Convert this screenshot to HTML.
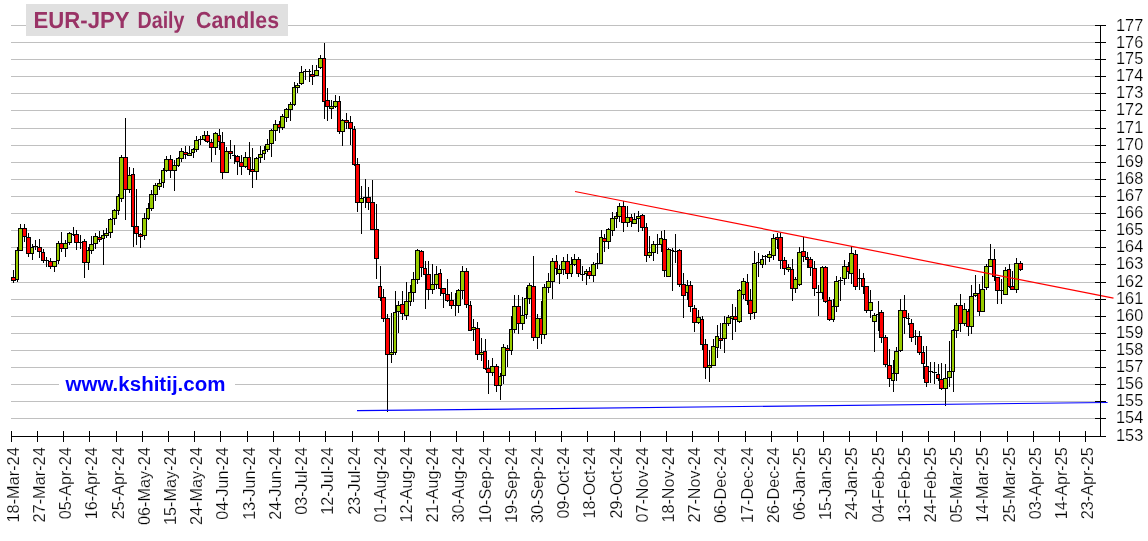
<!DOCTYPE html>
<html><head><meta charset="utf-8"><title>EUR-JPY Daily Candles</title>
<style>
html,body{margin:0;padding:0;background:#fff;width:1148px;height:541px;overflow:hidden}
svg{display:block}
text{font-family:"Liberation Sans",Arial,sans-serif}
.title text{text-rendering:geometricPrecision;font-size:23.2px;font-weight:bold;fill:#993366}
.url{font-size:19.5px;font-weight:bold;fill:#0000ff}
.ylab text{font-size:16px;fill:#000;stroke:#fff;stroke-width:0.2px}
.xlab text{font-size:16px;fill:#000;stroke:#fff;stroke-width:0.2px;text-anchor:end}
.g{fill:#99cc00}
.r{fill:#ff0000}
</style></head><body>
<svg width="1148" height="541" viewBox="0 0 1148 541">
<rect width="1148" height="541" fill="#fff"/>
<path d="M11 418.5H1095 M11 401.5H1095 M11 384.5H1095 M11 367.5H1095 M11 350.5H1095 M11 333.5H1095 M11 316.5H1095 M11 299.5H1095 M11 282.5H1095 M11 264.5H1095 M11 247.5H1095 M11 230.5H1095 M11 213.5H1095 M11 196.5H1095 M11 179.5H1095 M11 162.5H1095 M11 145.5H1095 M11 128.5H1095 M11 110.5H1095 M11 93.5H1095 M11 76.5H1095 M11 59.5H1095 M11 42.5H1095 M11 25.5H1095" stroke="#c0c0c0" stroke-width="1" fill="none"/>
<rect x="26" y="4" width="262" height="32" fill="#e0e0e0"/>
<g class="title" transform="translate(0,27.6) scale(1,1.0) translate(0,-27.6)"><text x="33.6" y="27.6" textLength="96" lengthAdjust="spacingAndGlyphs">EUR-JPY</text><text x="137.5" y="27.6" textLength="47" lengthAdjust="spacingAndGlyphs">Daily</text><text x="196" y="27.6" textLength="83" lengthAdjust="spacingAndGlyphs">Candles</text></g>
<rect x="59" y="374" width="176" height="20" fill="#ffffff"/>
<text x="65.5" y="391" class="url" textLength="160" lengthAdjust="spacingAndGlyphs">www.kshitij.com</text>
<g shape-rendering="crispEdges" fill="#000"><path d="M13 270h1V283h-1zM11 277h5V281h-5z"/><rect class="r" x="12" y="278" width="3" height="2"/><path d="M17 247h1V282h-1zM15 250h4V280h-4z"/><rect class="g" x="16" y="251" width="2" height="28"/><path d="M20 224h1V251h-1zM18 228h5V251h-5z"/><rect class="g" x="19" y="229" width="3" height="21"/><path d="M24 224h1V242h-1zM22 228h5V237h-5z"/><rect class="r" x="23" y="229" width="3" height="7"/><path d="M28 233h1V257h-1zM26 237h5V254h-5z"/><rect class="r" x="27" y="238" width="3" height="15"/><path d="M32 244h1V260h-1zM30 247h4V254h-4z"/><rect class="g" x="31" y="248" width="2" height="5"/><path d="M35 240h1V250h-1zM33 246h5v1h-5z"/><path d="M39 239h1V258h-1zM37 247h5V252h-5z"/><rect class="r" x="38" y="248" width="3" height="3"/><path d="M43 249h1V263h-1zM41 252h4V261h-4z"/><rect class="r" x="42" y="253" width="2" height="7"/><path d="M46 257h1V267h-1zM44 260h5v1h-5z"/><path d="M50 258h1V269h-1zM48 261h5V267h-5z"/><rect class="r" x="49" y="262" width="3" height="4"/><path d="M54 261h1V272h-1zM52 261h5V267h-5z"/><rect class="g" x="53" y="262" width="3" height="4"/><path d="M58 241h1V264h-1zM56 243h4V261h-4z"/><rect class="g" x="57" y="244" width="2" height="16"/><path d="M61 232h1V252h-1zM59 243h5V249h-5z"/><rect class="r" x="60" y="244" width="3" height="4"/><path d="M65 240h1V257h-1zM63 243h5V249h-5z"/><rect class="g" x="64" y="244" width="3" height="4"/><path d="M69 232h1V245h-1zM67 233h5V243h-5z"/><rect class="g" x="68" y="234" width="3" height="8"/><path d="M73 227h1V236h-1zM71 234h4v1h-4z"/><path d="M76 230h1V250h-1zM74 234h5V243h-5z"/><rect class="r" x="75" y="235" width="3" height="7"/><path d="M80 235h1V249h-1zM78 242h5v1h-5z"/><path d="M84 239h1V278h-1zM82 241h5V263h-5z"/><rect class="r" x="83" y="242" width="3" height="20"/><path d="M88 247h1V270h-1zM86 250h4V263h-4z"/><rect class="g" x="87" y="251" width="2" height="11"/><path d="M91 236h1V254h-1zM89 244h5V251h-5z"/><rect class="g" x="90" y="245" width="3" height="5"/><path d="M95 233h1V249h-1zM93 236h5V244h-5z"/><rect class="g" x="94" y="237" width="3" height="6"/><path d="M99 231h1V242h-1zM97 237h5V240h-5z"/><rect class="r" x="98" y="238" width="3" height="1"/><path d="M103 230h1V265h-1zM101 235h4V239h-4z"/><rect class="g" x="102" y="236" width="2" height="2"/><path d="M106 228h1V238h-1zM104 233h5V236h-5z"/><rect class="g" x="105" y="234" width="3" height="1"/><path d="M110 218h1V238h-1zM108 219h5V233h-5z"/><rect class="g" x="109" y="220" width="3" height="12"/><path d="M114 209h1V225h-1zM112 210h5V219h-5z"/><rect class="g" x="113" y="211" width="3" height="7"/><path d="M118 194h1V215h-1zM116 196h4V211h-4z"/><rect class="g" x="117" y="197" width="2" height="13"/><path d="M121 155h1V202h-1zM119 157h5V199h-5z"/><rect class="g" x="120" y="158" width="3" height="40"/><path d="M125 118h1V220h-1zM123 157h5V190h-5z"/><rect class="r" x="124" y="158" width="3" height="31"/><path d="M129 167h1V193h-1zM127 175h5V190h-5z"/><rect class="g" x="128" y="176" width="3" height="13"/><path d="M133 168h1V247h-1zM131 174h4V227h-4z"/><rect class="r" x="132" y="175" width="2" height="51"/><path d="M136 189h1V245h-1zM134 226h5V234h-5z"/><rect class="r" x="135" y="227" width="3" height="6"/><path d="M140 233h1V248h-1zM138 234h5V237h-5z"/><rect class="r" x="139" y="235" width="3" height="1"/><path d="M144 213h1V240h-1zM142 218h5V236h-5z"/><rect class="g" x="143" y="219" width="3" height="16"/><path d="M148 203h1V220h-1zM146 208h4V219h-4z"/><rect class="g" x="147" y="209" width="2" height="9"/><path d="M151 190h1V211h-1zM149 194h5V209h-5z"/><rect class="g" x="150" y="195" width="3" height="13"/><path d="M155 183h1V201h-1zM153 185h5V195h-5z"/><rect class="g" x="154" y="186" width="3" height="8"/><path d="M159 179h1V190h-1zM157 183h5V187h-5z"/><rect class="g" x="158" y="184" width="3" height="2"/><path d="M163 168h1V188h-1zM161 170h4V183h-4z"/><rect class="g" x="162" y="171" width="2" height="11"/><path d="M166 156h1V172h-1zM164 159h5V171h-5z"/><rect class="g" x="165" y="160" width="3" height="10"/><path d="M170 155h1V178h-1zM168 159h5V171h-5z"/><rect class="r" x="169" y="160" width="3" height="10"/><path d="M174 160h1V191h-1zM172 165h5V171h-5z"/><rect class="g" x="173" y="166" width="3" height="4"/><path d="M178 157h1V167h-1zM176 158h4V166h-4z"/><rect class="g" x="177" y="159" width="2" height="6"/><path d="M181 148h1V162h-1zM179 151h5V159h-5z"/><rect class="g" x="180" y="152" width="3" height="6"/><path d="M185 146h1V159h-1zM183 152h5V155h-5z"/><rect class="r" x="184" y="153" width="3" height="1"/><path d="M189 146h1V156h-1zM187 153h5V156h-5z"/><rect class="g" x="188" y="154" width="3" height="1"/><path d="M193 148h1V158h-1zM191 149h4V153h-4z"/><rect class="g" x="192" y="150" width="2" height="2"/><path d="M196 136h1V152h-1zM194 140h5V150h-5z"/><rect class="g" x="195" y="141" width="3" height="8"/><path d="M200 136h1V145h-1zM198 139h5v1h-5z"/><path d="M204 131h1V141h-1zM202 135h4V140h-4z"/><rect class="g" x="203" y="136" width="2" height="3"/><path d="M207 131h1V143h-1zM205 135h5V142h-5z"/><rect class="r" x="206" y="136" width="3" height="5"/><path d="M211 139h1V162h-1zM209 142h5V148h-5z"/><rect class="r" x="210" y="143" width="3" height="4"/><path d="M215 132h1V155h-1zM213 133h5V148h-5z"/><rect class="g" x="214" y="134" width="3" height="13"/><path d="M219 129h1V150h-1zM217 135h4V142h-4z"/><rect class="r" x="218" y="136" width="2" height="5"/><path d="M222 132h1V179h-1zM220 142h5V173h-5z"/><rect class="r" x="221" y="143" width="3" height="29"/><path d="M226 147h1V173h-1zM224 151h5V173h-5z"/><rect class="g" x="225" y="152" width="3" height="20"/><path d="M230 140h1V159h-1zM228 151h5V154h-5z"/><rect class="r" x="229" y="152" width="3" height="1"/><path d="M234 145h1V164h-1zM232 155h4v1h-4z"/><path d="M237 155h1V175h-1zM235 156h5V162h-5z"/><rect class="r" x="236" y="157" width="3" height="4"/><path d="M241 155h1V175h-1zM239 162h5V167h-5z"/><rect class="r" x="240" y="163" width="3" height="3"/><path d="M245 152h1V168h-1zM243 157h5V167h-5z"/><rect class="g" x="244" y="158" width="3" height="8"/><path d="M249 142h1V175h-1zM247 157h4V170h-4z"/><rect class="r" x="248" y="158" width="2" height="11"/><path d="M252 148h1V188h-1zM250 169h5V172h-5z"/><rect class="r" x="251" y="170" width="3" height="1"/><path d="M256 157h1V180h-1zM254 158h5V172h-5z"/><rect class="g" x="255" y="159" width="3" height="12"/><path d="M260 146h1V163h-1zM258 154h5V158h-5z"/><rect class="g" x="259" y="155" width="3" height="2"/><path d="M264 146h1V160h-1zM262 150h4V154h-4z"/><rect class="g" x="263" y="151" width="2" height="2"/><path d="M267 139h1V152h-1zM265 144h5V150h-5z"/><rect class="g" x="266" y="145" width="3" height="4"/><path d="M271 129h1V157h-1zM269 130h5V144h-5z"/><rect class="g" x="270" y="131" width="3" height="12"/><path d="M275 120h1V141h-1zM273 124h5V131h-5z"/><rect class="g" x="274" y="125" width="3" height="5"/><path d="M279 121h1V133h-1zM277 124h4V128h-4z"/><rect class="r" x="278" y="125" width="2" height="2"/><path d="M282 114h1V130h-1zM280 116h5V128h-5z"/><rect class="g" x="281" y="117" width="3" height="10"/><path d="M286 108h1V122h-1zM284 109h5V118h-5z"/><rect class="g" x="285" y="110" width="3" height="7"/><path d="M290 102h1V121h-1zM288 104h5V110h-5z"/><rect class="g" x="289" y="105" width="3" height="4"/><path d="M294 82h1V106h-1zM292 87h4V105h-4z"/><rect class="g" x="293" y="88" width="2" height="16"/><path d="M297 83h1V93h-1zM295 85h5V88h-5z"/><rect class="g" x="296" y="86" width="3" height="1"/><path d="M301 66h1V85h-1zM299 72h5V84h-5z"/><rect class="g" x="300" y="73" width="3" height="10"/><path d="M305 69h1V80h-1zM303 71h5v1h-5z"/><path d="M309 69h1V82h-1zM307 71h4v1h-4z"/><path d="M312 65h1V85h-1zM310 74h5V77h-5z"/><rect class="r" x="311" y="75" width="3" height="1"/><path d="M316 65h1V76h-1zM314 70h5V76h-5z"/><rect class="g" x="315" y="71" width="3" height="4"/><path d="M320 55h1V69h-1zM318 58h5V68h-5z"/><rect class="g" x="319" y="59" width="3" height="8"/><path d="M324 43h1V119h-1zM322 58h4V102h-4z"/><rect class="r" x="323" y="59" width="2" height="42"/><path d="M327 88h1V121h-1zM325 100h5V107h-5z"/><rect class="r" x="326" y="101" width="3" height="5"/><path d="M331 100h1V119h-1zM329 106h5V109h-5z"/><rect class="g" x="330" y="107" width="3" height="1"/><path d="M335 95h1V108h-1zM333 101h5V107h-5z"/><rect class="g" x="334" y="102" width="3" height="4"/><path d="M339 96h1V134h-1zM337 101h4V132h-4z"/><rect class="r" x="338" y="102" width="2" height="29"/><path d="M342 119h1V146h-1zM340 120h5V132h-5z"/><rect class="g" x="341" y="121" width="3" height="10"/><path d="M346 113h1V129h-1zM344 120h5V123h-5z"/><rect class="r" x="345" y="121" width="3" height="1"/><path d="M350 116h1V145h-1zM348 122h5V129h-5z"/><rect class="r" x="349" y="123" width="3" height="5"/><path d="M354 126h1V166h-1zM352 129h4V165h-4z"/><rect class="r" x="353" y="130" width="2" height="34"/><path d="M357 158h1V212h-1zM355 164h5V203h-5z"/><rect class="r" x="356" y="165" width="3" height="37"/><path d="M361 186h1V234h-1zM359 198h5V203h-5z"/><rect class="g" x="360" y="199" width="3" height="3"/><path d="M365 179h1V208h-1zM363 197h4v1h-4z"/><path d="M368 187h1V210h-1zM366 197h5V203h-5z"/><rect class="r" x="367" y="198" width="3" height="4"/><path d="M372 180h1V230h-1zM370 202h5V230h-5z"/><rect class="r" x="371" y="203" width="3" height="26"/><path d="M376 204h1V279h-1zM374 229h5V259h-5z"/><rect class="r" x="375" y="230" width="3" height="28"/><path d="M380 266h1V301h-1zM378 286h4V298h-4z"/><rect class="r" x="379" y="287" width="2" height="10"/><path d="M383 289h1V322h-1zM381 297h5V319h-5z"/><rect class="r" x="382" y="298" width="3" height="20"/><path d="M387 314h1V412h-1zM385 318h5V355h-5z"/><rect class="r" x="386" y="319" width="3" height="35"/><path d="M391 313h1V363h-1zM389 352h5V355h-5z"/><rect class="g" x="390" y="353" width="3" height="1"/><path d="M395 291h1V355h-1zM393 312h4V353h-4z"/><rect class="g" x="394" y="313" width="2" height="39"/><path d="M398 301h1V333h-1zM396 305h5V312h-5z"/><rect class="g" x="397" y="306" width="3" height="5"/><path d="M402 291h1V320h-1zM400 304h5V314h-5z"/><rect class="r" x="401" y="305" width="3" height="8"/><path d="M406 282h1V320h-1zM404 301h5V316h-5z"/><rect class="g" x="405" y="302" width="3" height="13"/><path d="M410 285h1V306h-1zM408 292h4V302h-4z"/><rect class="g" x="409" y="293" width="2" height="8"/><path d="M413 272h1V302h-1zM411 279h5V293h-5z"/><rect class="g" x="412" y="280" width="3" height="12"/><path d="M417 249h1V284h-1zM415 250h5V280h-5z"/><rect class="g" x="416" y="251" width="3" height="28"/><path d="M421 250h1V277h-1zM419 251h5V268h-5z"/><rect class="r" x="420" y="252" width="3" height="15"/><path d="M425 261h1V309h-1zM423 268h4V275h-4z"/><rect class="r" x="424" y="269" width="2" height="5"/><path d="M428 261h1V300h-1zM426 274h5V290h-5z"/><rect class="r" x="427" y="275" width="3" height="14"/><path d="M432 264h1V294h-1zM430 284h5V290h-5z"/><rect class="g" x="431" y="285" width="3" height="4"/><path d="M436 266h1V289h-1zM434 274h5V285h-5z"/><rect class="g" x="435" y="275" width="3" height="9"/><path d="M440 269h1V296h-1zM438 273h4V289h-4z"/><rect class="r" x="439" y="274" width="2" height="14"/><path d="M443 288h1V308h-1zM441 288h5V294h-5z"/><rect class="r" x="442" y="289" width="3" height="4"/><path d="M447 279h1V302h-1zM445 294h5V301h-5z"/><rect class="r" x="446" y="295" width="3" height="5"/><path d="M451 292h1V309h-1zM449 300h5V306h-5z"/><rect class="r" x="450" y="301" width="3" height="4"/><path d="M455 293h1V316h-1zM453 305h4v1h-4z"/><path d="M458 289h1V313h-1zM456 290h5V306h-5z"/><rect class="g" x="457" y="291" width="3" height="14"/><path d="M462 266h1V299h-1zM460 271h5V291h-5z"/><rect class="g" x="461" y="272" width="3" height="18"/><path d="M466 268h1V308h-1zM464 271h5V305h-5z"/><rect class="r" x="465" y="272" width="3" height="32"/><path d="M470 301h1V331h-1zM468 305h4V331h-4z"/><rect class="r" x="469" y="306" width="2" height="24"/><path d="M473 319h1V341h-1zM471 327h5V330h-5z"/><rect class="g" x="472" y="328" width="3" height="1"/><path d="M477 322h1V360h-1zM475 328h5V355h-5z"/><rect class="r" x="476" y="329" width="3" height="25"/><path d="M481 338h1V361h-1zM479 352h5V355h-5z"/><rect class="g" x="480" y="353" width="3" height="1"/><path d="M485 339h1V370h-1zM483 351h4V369h-4z"/><rect class="r" x="484" y="352" width="2" height="16"/><path d="M488 360h1V394h-1zM486 368h5V373h-5z"/><rect class="r" x="487" y="369" width="3" height="3"/><path d="M492 358h1V376h-1zM490 366h5V373h-5z"/><rect class="g" x="491" y="367" width="3" height="5"/><path d="M496 364h1V392h-1zM494 366h5V386h-5z"/><rect class="r" x="495" y="367" width="3" height="18"/><path d="M500 373h1V400h-1zM498 376h4V386h-4z"/><rect class="g" x="499" y="377" width="2" height="8"/><path d="M503 344h1V384h-1zM501 347h5V376h-5z"/><rect class="g" x="502" y="348" width="3" height="27"/><path d="M507 345h1V367h-1zM505 348h5V351h-5z"/><rect class="r" x="506" y="349" width="3" height="1"/><path d="M511 316h1V355h-1zM509 329h4V351h-4z"/><rect class="g" x="510" y="330" width="2" height="20"/><path d="M514 295h1V333h-1zM512 306h5V330h-5z"/><rect class="g" x="513" y="307" width="3" height="22"/><path d="M518 295h1V334h-1zM516 306h5V324h-5z"/><rect class="r" x="517" y="307" width="3" height="16"/><path d="M522 297h1V330h-1zM520 315h5V324h-5z"/><rect class="g" x="521" y="316" width="3" height="7"/><path d="M526 287h1V319h-1zM524 298h4V315h-4z"/><rect class="g" x="525" y="299" width="2" height="15"/><path d="M529 283h1V304h-1zM527 285h5V299h-5z"/><rect class="g" x="528" y="286" width="3" height="12"/><path d="M533 256h1V341h-1zM531 286h5V338h-5z"/><rect class="r" x="532" y="287" width="3" height="50"/><path d="M537 314h1V349h-1zM535 318h5V338h-5z"/><rect class="g" x="536" y="319" width="3" height="18"/><path d="M541 301h1V344h-1zM539 318h4V335h-4z"/><rect class="r" x="540" y="319" width="2" height="15"/><path d="M544 284h1V339h-1zM542 287h5V335h-5z"/><rect class="g" x="543" y="288" width="3" height="46"/><path d="M548 273h1V293h-1zM546 281h5V288h-5z"/><rect class="g" x="547" y="282" width="3" height="5"/><path d="M552 258h1V299h-1zM550 261h5V282h-5z"/><rect class="g" x="551" y="262" width="3" height="19"/><path d="M556 255h1V275h-1zM554 261h4V269h-4z"/><rect class="r" x="555" y="262" width="2" height="6"/><path d="M559 265h1V284h-1zM557 269h5V274h-5z"/><rect class="g" x="558" y="270" width="3" height="3"/><path d="M563 257h1V275h-1zM561 261h5V270h-5z"/><rect class="g" x="562" y="262" width="3" height="7"/><path d="M567 254h1V279h-1zM565 261h5V274h-5z"/><rect class="r" x="566" y="262" width="3" height="11"/><path d="M571 257h1V277h-1zM569 264h4V274h-4z"/><rect class="g" x="570" y="265" width="2" height="8"/><path d="M574 254h1V266h-1zM572 259h5V265h-5z"/><rect class="g" x="573" y="260" width="3" height="4"/><path d="M578 257h1V277h-1zM576 259h5V274h-5z"/><rect class="r" x="577" y="260" width="3" height="13"/><path d="M582 266h1V281h-1zM580 274h5v1h-5z"/><path d="M586 269h1V285h-1zM584 271h4V274h-4z"/><rect class="g" x="585" y="272" width="2" height="1"/><path d="M589 267h1V279h-1zM587 271h5V276h-5z"/><rect class="r" x="588" y="272" width="3" height="3"/><path d="M593 262h1V282h-1zM591 264h5V276h-5z"/><rect class="g" x="592" y="265" width="3" height="10"/><path d="M597 253h1V269h-1zM595 263h5v1h-5z"/><path d="M601 230h1V264h-1zM599 237h4V264h-4z"/><rect class="g" x="600" y="238" width="2" height="25"/><path d="M604 234h1V252h-1zM602 238h5V242h-5z"/><rect class="r" x="603" y="239" width="3" height="2"/><path d="M608 228h1V249h-1zM606 229h5V242h-5z"/><rect class="g" x="607" y="230" width="3" height="11"/><path d="M612 212h1V236h-1zM610 218h5V231h-5z"/><rect class="g" x="611" y="219" width="3" height="11"/><path d="M616 212h1V228h-1zM614 216h4V219h-4z"/><rect class="g" x="615" y="217" width="2" height="1"/><path d="M619 203h1V222h-1zM617 206h5V217h-5z"/><rect class="g" x="618" y="207" width="3" height="9"/><path d="M623 201h1V232h-1zM621 206h5V223h-5z"/><rect class="r" x="622" y="207" width="3" height="15"/><path d="M627 206h1V227h-1zM625 217h5V223h-5z"/><rect class="g" x="626" y="218" width="3" height="4"/><path d="M631 214h1V227h-1zM629 217h4V222h-4z"/><rect class="r" x="630" y="218" width="2" height="3"/><path d="M634 213h1V224h-1zM632 219h5V224h-5z"/><rect class="g" x="633" y="220" width="3" height="3"/><path d="M638 211h1V232h-1zM636 216h5V219h-5z"/><rect class="g" x="637" y="217" width="3" height="1"/><path d="M642 214h1V231h-1zM640 215h5V228h-5z"/><rect class="r" x="641" y="216" width="3" height="11"/><path d="M646 223h1V262h-1zM644 227h4V256h-4z"/><rect class="r" x="645" y="228" width="2" height="27"/><path d="M649 236h1V258h-1zM647 252h5V256h-5z"/><rect class="g" x="648" y="253" width="3" height="2"/><path d="M653 241h1V261h-1zM651 244h5V253h-5z"/><rect class="g" x="652" y="245" width="3" height="7"/><path d="M657 234h1V254h-1zM655 244h5v1h-5z"/><path d="M661 231h1V252h-1zM659 238h4V245h-4z"/><rect class="g" x="660" y="239" width="2" height="5"/><path d="M664 230h1V277h-1zM662 239h5V271h-5z"/><rect class="r" x="663" y="240" width="3" height="30"/><path d="M668 248h1V277h-1zM666 249h5V277h-5z"/><rect class="g" x="667" y="250" width="3" height="26"/><path d="M672 248h1V291h-1zM670 250h4v1h-4z"/><path d="M675 234h1V263h-1zM673 251h5v1h-5z"/><path d="M679 249h1V287h-1zM677 250h5V285h-5z"/><rect class="r" x="678" y="251" width="3" height="33"/><path d="M683 273h1V318h-1zM681 284h5V296h-5z"/><rect class="r" x="682" y="285" width="3" height="10"/><path d="M687 280h1V300h-1zM685 285h4V293h-4z"/><rect class="g" x="686" y="286" width="2" height="6"/><path d="M690 281h1V312h-1zM688 285h5V307h-5z"/><rect class="r" x="689" y="286" width="3" height="20"/><path d="M694 305h1V332h-1zM692 308h5V323h-5z"/><rect class="r" x="693" y="309" width="3" height="13"/><path d="M698 310h1V324h-1zM696 317h5V323h-5z"/><rect class="g" x="697" y="318" width="3" height="4"/><path d="M702 316h1V350h-1zM700 319h4V345h-4z"/><rect class="r" x="701" y="320" width="2" height="24"/><path d="M705 339h1V379h-1zM703 344h5V368h-5z"/><rect class="r" x="704" y="345" width="3" height="22"/><path d="M709 350h1V382h-1zM707 365h5V368h-5z"/><rect class="g" x="708" y="366" width="3" height="1"/><path d="M713 339h1V366h-1zM711 346h5V366h-5z"/><rect class="g" x="712" y="347" width="3" height="18"/><path d="M717 325h1V358h-1zM715 336h4V348h-4z"/><rect class="g" x="716" y="337" width="2" height="10"/><path d="M720 323h1V349h-1zM718 338h5V341h-5z"/><rect class="r" x="719" y="339" width="3" height="1"/><path d="M724 316h1V353h-1zM722 323h5V339h-5z"/><rect class="g" x="723" y="324" width="3" height="14"/><path d="M728 315h1V326h-1zM726 317h5V324h-5z"/><rect class="g" x="727" y="318" width="3" height="5"/><path d="M732 304h1V340h-1zM730 316h4V319h-4z"/><rect class="g" x="731" y="317" width="2" height="1"/><path d="M735 307h1V332h-1zM733 316h5V320h-5z"/><rect class="r" x="734" y="317" width="3" height="2"/><path d="M739 289h1V323h-1zM737 290h5V322h-5z"/><rect class="g" x="738" y="291" width="3" height="30"/><path d="M743 278h1V299h-1zM741 281h5V295h-5z"/><rect class="g" x="742" y="282" width="3" height="12"/><path d="M747 274h1V305h-1zM745 282h4V301h-4z"/><rect class="r" x="746" y="283" width="2" height="17"/><path d="M750 289h1V320h-1zM748 300h5V314h-5z"/><rect class="r" x="749" y="301" width="3" height="12"/><path d="M754 251h1V319h-1zM752 263h5V313h-5z"/><rect class="g" x="753" y="264" width="3" height="48"/><path d="M758 253h1V277h-1zM756 262h5v1h-5z"/><path d="M762 255h1V268h-1zM760 259h4V265h-4z"/><rect class="g" x="761" y="260" width="2" height="4"/><path d="M765 255h1V265h-1zM763 256h5v1h-5z"/><path d="M769 251h1V262h-1zM767 254h5V258h-5z"/><rect class="g" x="768" y="255" width="3" height="2"/><path d="M773 234h1V260h-1zM771 238h5V256h-5z"/><rect class="g" x="772" y="239" width="3" height="16"/><path d="M777 233h1V249h-1zM775 237h4V240h-4z"/><rect class="r" x="776" y="238" width="2" height="1"/><path d="M780 233h1V269h-1zM778 237h5V261h-5z"/><rect class="r" x="779" y="238" width="3" height="22"/><path d="M784 257h1V275h-1zM782 260h5V269h-5z"/><rect class="r" x="783" y="261" width="3" height="7"/><path d="M788 264h1V272h-1zM786 267h5V270h-5z"/><rect class="g" x="787" y="268" width="3" height="1"/><path d="M792 259h1V301h-1zM790 269h4V289h-4z"/><rect class="r" x="791" y="270" width="2" height="18"/><path d="M795 277h1V293h-1zM793 279h5V289h-5z"/><rect class="g" x="794" y="280" width="3" height="8"/><path d="M799 247h1V286h-1zM797 252h5V285h-5z"/><rect class="g" x="798" y="253" width="3" height="31"/><path d="M803 237h1V262h-1zM801 251h5V257h-5z"/><rect class="r" x="802" y="252" width="3" height="4"/><path d="M807 252h1V268h-1zM805 257h4V260h-4z"/><rect class="r" x="806" y="258" width="2" height="1"/><path d="M810 257h1V276h-1zM808 259h5V268h-5z"/><rect class="r" x="809" y="260" width="3" height="7"/><path d="M814 261h1V296h-1zM812 268h5V289h-5z"/><rect class="r" x="813" y="269" width="3" height="19"/><path d="M818 285h1V316h-1zM816 292h5v1h-5z"/><path d="M822 266h1V299h-1zM820 267h4V293h-4z"/><rect class="g" x="821" y="268" width="2" height="24"/><path d="M825 266h1V303h-1zM823 267h5V302h-5z"/><rect class="r" x="824" y="268" width="3" height="33"/><path d="M829 297h1V321h-1zM827 300h5V320h-5z"/><rect class="r" x="828" y="301" width="3" height="18"/><path d="M833 299h1V322h-1zM831 306h4V320h-4z"/><rect class="g" x="832" y="307" width="2" height="12"/><path d="M836 276h1V312h-1zM834 281h5V307h-5z"/><rect class="g" x="835" y="282" width="3" height="24"/><path d="M840 277h1V301h-1zM838 280h5v1h-5z"/><path d="M844 260h1V285h-1zM842 266h5V279h-5z"/><rect class="g" x="843" y="267" width="3" height="11"/><path d="M848 262h1V279h-1zM846 266h4V272h-4z"/><rect class="r" x="847" y="267" width="2" height="4"/><path d="M851 246h1V284h-1zM849 253h5V274h-5z"/><rect class="g" x="850" y="254" width="3" height="19"/><path d="M855 250h1V290h-1zM853 254h5V287h-5z"/><rect class="r" x="854" y="255" width="3" height="31"/><path d="M859 269h1V290h-1zM857 278h5v1h-5z"/><path d="M863 273h1V294h-1zM861 278h4V287h-4z"/><rect class="r" x="862" y="279" width="2" height="7"/><path d="M866 286h1V313h-1zM864 286h5V311h-5z"/><rect class="r" x="865" y="287" width="3" height="23"/><path d="M870 290h1V318h-1zM868 302h5V311h-5z"/><rect class="g" x="869" y="303" width="3" height="7"/><path d="M874 313h1V352h-1zM872 315h5V322h-5z"/><rect class="g" x="873" y="316" width="3" height="5"/><path d="M878 301h1V331h-1zM876 314h4v1h-4z"/><path d="M881 310h1V343h-1zM879 312h5V338h-5z"/><rect class="r" x="880" y="313" width="3" height="24"/><path d="M885 335h1V367h-1zM883 337h5V365h-5z"/><rect class="r" x="884" y="338" width="3" height="26"/><path d="M889 349h1V387h-1zM887 365h5V379h-5z"/><rect class="r" x="888" y="366" width="3" height="12"/><path d="M893 360h1V392h-1zM891 373h4V381h-4z"/><rect class="g" x="892" y="374" width="2" height="6"/><path d="M896 347h1V381h-1zM894 351h5V374h-5z"/><rect class="g" x="895" y="352" width="3" height="21"/><path d="M900 299h1V352h-1zM898 310h5V351h-5z"/><rect class="g" x="899" y="311" width="3" height="39"/><path d="M904 295h1V334h-1zM902 310h5V318h-5z"/><rect class="r" x="903" y="311" width="3" height="6"/><path d="M908 313h1V325h-1zM906 318h4v1h-4z"/><path d="M911 319h1V342h-1zM909 323h5V338h-5z"/><rect class="r" x="910" y="324" width="3" height="13"/><path d="M915 330h1V345h-1zM913 336h5v1h-5z"/><path d="M919 331h1V355h-1zM917 336h5V353h-5z"/><rect class="r" x="918" y="337" width="3" height="15"/><path d="M923 346h1V379h-1zM921 352h4V364h-4z"/><rect class="r" x="922" y="353" width="2" height="10"/><path d="M926 346h1V387h-1zM924 366h5V383h-5z"/><rect class="r" x="925" y="367" width="3" height="15"/><path d="M930 362h1V383h-1zM928 371h5v1h-5z"/><path d="M934 362h1V384h-1zM932 372h5v1h-5z"/><path d="M938 364h1V381h-1zM936 374h4V379h-4z"/><rect class="r" x="937" y="375" width="2" height="3"/><path d="M941 363h1V390h-1zM939 379h5V389h-5z"/><rect class="r" x="940" y="380" width="3" height="8"/><path d="M945 364h1V406h-1zM943 378h5V389h-5z"/><rect class="g" x="944" y="379" width="3" height="9"/><path d="M949 341h1V387h-1zM947 371h5V378h-5z"/><rect class="g" x="948" y="372" width="3" height="5"/><path d="M953 329h1V392h-1zM951 330h4V372h-4z"/><rect class="g" x="952" y="331" width="2" height="40"/><path d="M956 303h1V338h-1zM954 305h5V331h-5z"/><rect class="g" x="955" y="306" width="3" height="24"/><path d="M960 294h1V332h-1zM958 305h5V324h-5z"/><rect class="r" x="959" y="306" width="3" height="17"/><path d="M964 303h1V326h-1zM962 309h5V324h-5z"/><rect class="g" x="963" y="310" width="3" height="13"/><path d="M968 309h1V336h-1zM966 311h4V327h-4z"/><rect class="r" x="967" y="312" width="2" height="14"/><path d="M971 285h1V334h-1zM969 296h5V327h-5z"/><rect class="g" x="970" y="297" width="3" height="29"/><path d="M975 275h1V297h-1zM973 293h5V296h-5z"/><rect class="g" x="974" y="294" width="3" height="1"/><path d="M979 284h1V316h-1zM977 293h4V312h-4z"/><rect class="r" x="978" y="294" width="2" height="17"/><path d="M982 276h1V312h-1zM980 289h5V312h-5z"/><rect class="g" x="981" y="290" width="3" height="21"/><path d="M986 264h1V290h-1zM984 266h5V288h-5z"/><rect class="g" x="985" y="267" width="3" height="20"/><path d="M990 244h1V267h-1zM988 259h5V267h-5z"/><rect class="g" x="989" y="260" width="3" height="6"/><path d="M994 249h1V281h-1zM992 259h4V277h-4z"/><rect class="r" x="993" y="260" width="2" height="16"/><path d="M997 277h1V304h-1zM995 277h5V291h-5z"/><rect class="r" x="996" y="278" width="3" height="12"/><path d="M1001 279h1V304h-1zM999 290h5v1h-5z"/><path d="M1005 267h1V295h-1zM1003 270h5V295h-5z"/><rect class="g" x="1004" y="271" width="3" height="23"/><path d="M1009 264h1V288h-1zM1007 269h4V287h-4z"/><rect class="r" x="1008" y="270" width="2" height="16"/><path d="M1012 271h1V290h-1zM1010 286h5V290h-5z"/><rect class="r" x="1011" y="287" width="3" height="2"/><path d="M1016 258h1V293h-1zM1014 263h5V290h-5z"/><rect class="g" x="1015" y="264" width="3" height="25"/><path d="M1020 261h1V271h-1zM1018 263h5V270h-5z"/><rect class="r" x="1019" y="264" width="3" height="5"/></g>
<line x1="575" y1="191.5" x2="1113.5" y2="298.2" stroke="#ff0000" stroke-width="1.2"/>
<line x1="357" y1="410.7" x2="1107.6" y2="402.5" stroke="#0000ff" stroke-width="1.2"/>
<path shape-rendering="crispEdges" fill="#000" d="M1100 25h1V436h-1z M11 436H1106v1H11z M1095 436h11v1h-11z M1095 418h11v1h-11z M1095 401h11v1h-11z M1095 384h11v1h-11z M1095 367h11v1h-11z M1095 350h11v1h-11z M1095 333h11v1h-11z M1095 316h11v1h-11z M1095 299h11v1h-11z M1095 282h11v1h-11z M1095 264h11v1h-11z M1095 247h11v1h-11z M1095 230h11v1h-11z M1095 213h11v1h-11z M1095 196h11v1h-11z M1095 179h11v1h-11z M1095 162h11v1h-11z M1095 145h11v1h-11z M1095 128h11v1h-11z M1095 110h11v1h-11z M1095 93h11v1h-11z M1095 76h11v1h-11z M1095 59h11v1h-11z M1095 42h11v1h-11z M1095 25h11v1h-11z M11 431h1v11h-1z M37 431h1v11h-1z M63 431h1v11h-1z M89 431h1v11h-1z M116 431h1v11h-1z M142 431h1v11h-1z M168 431h1v11h-1z M194 431h1v11h-1z M220 431h1v11h-1z M247 431h1v11h-1z M273 431h1v11h-1z M299 431h1v11h-1z M325 431h1v11h-1z M352 431h1v11h-1z M378 431h1v11h-1z M404 431h1v11h-1z M430 431h1v11h-1z M456 431h1v11h-1z M483 431h1v11h-1z M509 431h1v11h-1z M535 431h1v11h-1z M561 431h1v11h-1z M587 431h1v11h-1z M614 431h1v11h-1z M640 431h1v11h-1z M666 431h1v11h-1z M692 431h1v11h-1z M718 431h1v11h-1z M745 431h1v11h-1z M771 431h1v11h-1z M797 431h1v11h-1z M823 431h1v11h-1z M849 431h1v11h-1z M876 431h1v11h-1z M902 431h1v11h-1z M928 431h1v11h-1z M954 431h1v11h-1z M980 431h1v11h-1z M1007 431h1v11h-1z M1033 431h1v11h-1z M1059 431h1v11h-1z M1085 431h1v11h-1z"/>
<g class="ylab"><text transform="translate(1116,441.4) scale(1.02,1)">153</text><text transform="translate(1116,423.4) scale(1.02,1)">154</text><text transform="translate(1116,406.4) scale(1.02,1)">155</text><text transform="translate(1116,389.4) scale(1.02,1)">156</text><text transform="translate(1116,372.4) scale(1.02,1)">157</text><text transform="translate(1116,355.4) scale(1.02,1)">158</text><text transform="translate(1116,338.4) scale(1.02,1)">159</text><text transform="translate(1116,321.4) scale(1.02,1)">160</text><text transform="translate(1116,304.4) scale(1.02,1)">161</text><text transform="translate(1116,287.4) scale(1.02,1)">162</text><text transform="translate(1116,269.4) scale(1.02,1)">163</text><text transform="translate(1116,252.4) scale(1.02,1)">164</text><text transform="translate(1116,235.4) scale(1.02,1)">165</text><text transform="translate(1116,218.4) scale(1.02,1)">166</text><text transform="translate(1116,201.4) scale(1.02,1)">167</text><text transform="translate(1116,184.4) scale(1.02,1)">168</text><text transform="translate(1116,167.4) scale(1.02,1)">169</text><text transform="translate(1116,150.4) scale(1.02,1)">170</text><text transform="translate(1116,133.4) scale(1.02,1)">171</text><text transform="translate(1116,115.4) scale(1.02,1)">172</text><text transform="translate(1116,98.4) scale(1.02,1)">173</text><text transform="translate(1116,81.4) scale(1.02,1)">174</text><text transform="translate(1116,64.4) scale(1.02,1)">175</text><text transform="translate(1116,48.2) scale(1.02,1)">176</text><text transform="translate(1116,31.2) scale(1.02,1)">177</text></g>
<g class="xlab"><text transform="translate(19.0,447.3) rotate(-90)" textLength="75.2" lengthAdjust="spacingAndGlyphs">18-Mar-24</text><text transform="translate(45.0,447.3) rotate(-90)" textLength="75.2" lengthAdjust="spacingAndGlyphs">27-Mar-24</text><text transform="translate(71.0,447.3) rotate(-90)" textLength="71.9" lengthAdjust="spacingAndGlyphs">05-Apr-24</text><text transform="translate(97.0,447.3) rotate(-90)" textLength="71.9" lengthAdjust="spacingAndGlyphs">16-Apr-24</text><text transform="translate(124.0,447.3) rotate(-90)" textLength="71.9" lengthAdjust="spacingAndGlyphs">25-Apr-24</text><text transform="translate(150.0,447.3) rotate(-90)" textLength="77.7" lengthAdjust="spacingAndGlyphs">06-May-24</text><text transform="translate(176.0,447.3) rotate(-90)" textLength="77.7" lengthAdjust="spacingAndGlyphs">15-May-24</text><text transform="translate(202.0,447.3) rotate(-90)" textLength="77.7" lengthAdjust="spacingAndGlyphs">24-May-24</text><text transform="translate(228.0,447.3) rotate(-90)" textLength="72.5" lengthAdjust="spacingAndGlyphs">04-Jun-24</text><text transform="translate(255.0,447.3) rotate(-90)" textLength="72.5" lengthAdjust="spacingAndGlyphs">13-Jun-24</text><text transform="translate(281.0,447.3) rotate(-90)" textLength="72.5" lengthAdjust="spacingAndGlyphs">24-Jun-24</text><text transform="translate(307.0,447.3) rotate(-90)" textLength="67.5" lengthAdjust="spacingAndGlyphs">03-Jul-24</text><text transform="translate(333.0,447.3) rotate(-90)" textLength="67.5" lengthAdjust="spacingAndGlyphs">12-Jul-24</text><text transform="translate(360.0,447.3) rotate(-90)" textLength="67.5" lengthAdjust="spacingAndGlyphs">23-Jul-24</text><text transform="translate(386.0,447.3) rotate(-90)" textLength="75.2" lengthAdjust="spacingAndGlyphs">01-Aug-24</text><text transform="translate(412.0,447.3) rotate(-90)" textLength="75.2" lengthAdjust="spacingAndGlyphs">12-Aug-24</text><text transform="translate(438.0,447.3) rotate(-90)" textLength="75.2" lengthAdjust="spacingAndGlyphs">21-Aug-24</text><text transform="translate(464.0,447.3) rotate(-90)" textLength="75.2" lengthAdjust="spacingAndGlyphs">30-Aug-24</text><text transform="translate(491.0,447.3) rotate(-90)" textLength="75.6" lengthAdjust="spacingAndGlyphs">10-Sep-24</text><text transform="translate(517.0,447.3) rotate(-90)" textLength="75.6" lengthAdjust="spacingAndGlyphs">19-Sep-24</text><text transform="translate(543.0,447.3) rotate(-90)" textLength="75.6" lengthAdjust="spacingAndGlyphs">30-Sep-24</text><text transform="translate(569.0,447.3) rotate(-90)" textLength="71.2" lengthAdjust="spacingAndGlyphs">09-Oct-24</text><text transform="translate(595.0,447.3) rotate(-90)" textLength="71.2" lengthAdjust="spacingAndGlyphs">18-Oct-24</text><text transform="translate(622.0,447.3) rotate(-90)" textLength="71.2" lengthAdjust="spacingAndGlyphs">29-Oct-24</text><text transform="translate(648.0,447.3) rotate(-90)" textLength="75.2" lengthAdjust="spacingAndGlyphs">07-Nov-24</text><text transform="translate(674.0,447.3) rotate(-90)" textLength="75.2" lengthAdjust="spacingAndGlyphs">18-Nov-24</text><text transform="translate(700.0,447.3) rotate(-90)" textLength="75.2" lengthAdjust="spacingAndGlyphs">27-Nov-24</text><text transform="translate(726.0,447.3) rotate(-90)" textLength="75.6" lengthAdjust="spacingAndGlyphs">06-Dec-24</text><text transform="translate(753.0,447.3) rotate(-90)" textLength="75.6" lengthAdjust="spacingAndGlyphs">17-Dec-24</text><text transform="translate(779.0,447.3) rotate(-90)" textLength="75.6" lengthAdjust="spacingAndGlyphs">26-Dec-24</text><text transform="translate(805.0,447.3) rotate(-90)" textLength="72.8" lengthAdjust="spacingAndGlyphs">06-Jan-25</text><text transform="translate(831.0,447.3) rotate(-90)" textLength="72.8" lengthAdjust="spacingAndGlyphs">15-Jan-25</text><text transform="translate(857.0,447.3) rotate(-90)" textLength="72.8" lengthAdjust="spacingAndGlyphs">24-Jan-25</text><text transform="translate(884.0,447.3) rotate(-90)" textLength="75.2" lengthAdjust="spacingAndGlyphs">04-Feb-25</text><text transform="translate(910.0,447.3) rotate(-90)" textLength="75.2" lengthAdjust="spacingAndGlyphs">13-Feb-25</text><text transform="translate(936.0,447.3) rotate(-90)" textLength="75.2" lengthAdjust="spacingAndGlyphs">24-Feb-25</text><text transform="translate(962.0,447.3) rotate(-90)" textLength="75.2" lengthAdjust="spacingAndGlyphs">05-Mar-25</text><text transform="translate(988.0,447.3) rotate(-90)" textLength="75.2" lengthAdjust="spacingAndGlyphs">14-Mar-25</text><text transform="translate(1015.0,447.3) rotate(-90)" textLength="75.2" lengthAdjust="spacingAndGlyphs">25-Mar-25</text><text transform="translate(1041.0,447.3) rotate(-90)" textLength="71.9" lengthAdjust="spacingAndGlyphs">03-Apr-25</text><text transform="translate(1067.0,447.3) rotate(-90)" textLength="71.9" lengthAdjust="spacingAndGlyphs">14-Apr-25</text><text transform="translate(1093.0,447.3) rotate(-90)" textLength="71.9" lengthAdjust="spacingAndGlyphs">23-Apr-25</text></g>
</svg>
</body></html>
